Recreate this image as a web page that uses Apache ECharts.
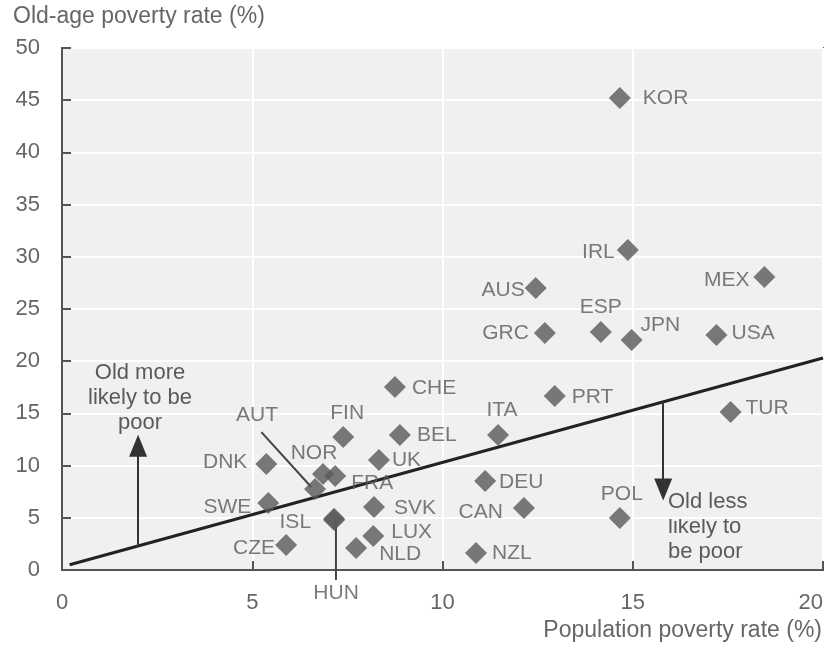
<!DOCTYPE html>
<html>
<head>
<meta charset="utf-8">
<script src="https://cdn.jsdelivr.net/npm/echarts@6/dist/echarts.min.js"></script>
<style>
html,body{margin:0;padding:0;background:#fff;}
#chart{width:826px;height:654px;}
</style>
</head>
<body>
<div id="chart"></div>
<script>
// ---- data ----
const countries = ['KOR','IRL','MEX','AUS','GRC','ESP','JPN','USA','PRT','TUR','POL','CHE','BEL','UK','ITA','DEU','CAN','SVK','LUX','NLD','NZL','FIN','DNK','NOR','FRA','AUT','SWE','ISL','HUN','CZE'];
const populationPoverty = [14.66,14.87,18.46,12.45,12.69,14.16,14.97,17.2,12.95,17.57,14.66,8.75,8.88,8.33,11.46,11.12,12.14,8.2,8.18,7.73,10.88,7.39,5.37,6.86,7.18,6.65,5.42,7.15,7.15,5.89];
const oldAgePoverty = [45.2,30.65,28.07,27.01,22.7,22.8,22.03,22.5,16.67,15.13,4.98,17.53,12.93,10.54,12.93,8.52,5.94,6.03,3.26,2.11,1.63,12.74,10.15,9.2,9.0,7.76,6.42,4.9,4.8,2.39];
const fitX = [0.2, 20];
const fitY = [0.5, 20.3];
const xTicks = [0, 5, 10, 15, 20];
const yTicks = [0, 5, 10, 15, 20, 25, 30, 35, 40, 45, 50];
// annotation arrows: [x, fromY, toY]
const arrowUp = [2.0, 2.3, 11.9];
const arrowDown = [15.8, 16.1, 7.7];
// leader lines
const autLeader = [[5.24, 13.2], [6.55, 7.95]];
const hunLeader = [[7.2, 4.7], [7.2, -0.95]];

// ---- label placement (style, not data): [position, distance, dx, dy] ----
const place = {
  KOR:['right',12,0,0], IRL:['left',2,0,2], MEX:['left',4,0,3], AUS:['left',0,0,2],
  GRC:['left',5,0,0], ESP:['top',3,0,0], JPN:['right',-2,0,-15], USA:['right',4,0,-2],
  PRT:['right',6,0,1], TUR:['right',4,0,-4], POL:['top',2,2,0], CHE:['right',6,0,1],
  BEL:['right',6,0,0], UK:['right',2,0,0], ITA:['top',3,4,0], DEU:['right',3,0,1],
  CAN:['left',10,0,4], SVK:['right',9,0,1], LUX:['right',7,0,-4], NLD:['right',12,0,6],
  NZL:['right',5,0,0], FIN:['top',2,4,0], DNK:['left',8,0,-2], NOR:['top',-1,-9,0],
  FRA:['right',5,0,7], AUT:['inside',0,-58,-74], SWE:['left',6,0,4], ISL:['left',12,0,3],
  HUN:['inside',0,2,73], CZE:['left',0,0,3]
};

const FONT = "'Liberation Sans', Arial, sans-serif";
const TXT = '#5a5a5a';

const scatterData = countries.map((c, i) => {
  const p = place[c];
  return {
    name: c,
    value: [populationPoverty[i], oldAgePoverty[i]],
    label: { position: p[0], distance: p[1] }
  };
});

const chart = echarts.init(document.getElementById('chart'), null, {renderer:'canvas'});
chart.setOption({
  backgroundColor: '#ffffff',
  animation: false,
  grid: {
    left: 62, right: 2, top: 48, bottom: 84,
    show: true, backgroundColor: '#f0f0f0', borderColor: '#555', borderWidth: 2
  },
  xAxis: {
    type: 'value', min: xTicks[0], max: xTicks[xTicks.length-1], interval: 5,
    axisLine: { show: true, lineStyle: { color: '#555', width: 2 } },
    axisTick: { show: true, inside: true, length: 9, lineStyle: { color: '#555', width: 2 } },
    splitLine: { show: true, lineStyle: { color: '#ffffff', width: 2 } },
    axisLabel: { color: '#666', fontFamily: FONT, fontSize: 22, margin: 22, alignMaxLabel: 'right' }
  },
  yAxis: {
    type: 'value', min: yTicks[0], max: yTicks[yTicks.length-1], interval: 5,
    axisLine: { show: true, lineStyle: { color: '#555', width: 2 } },
    axisTick: { show: true, inside: true, length: 9, lineStyle: { color: '#555', width: 2 } },
    splitLine: { show: true, lineStyle: { color: '#ffffff', width: 2 } },
    axisLabel: { color: '#666', fontFamily: FONT, fontSize: 22, margin: 22 }
  },
  graphic: [
    { type: 'text', left: 13, top: 5, style: { text: 'Old-age poverty rate (%)', fill: '#666', font: "23px " + FONT } },
    { type: 'text', right: 4, top: 619, style: { text: 'Population poverty rate (%)', fill: '#666', font: "23px " + FONT, textAlign: 'right' } },
    { type: 'text', x: 140, y: 360, style: { text: 'Old more\nlikely to be\npoor', fill: TXT, font: "22px " + FONT, textAlign: 'center', lineHeight: 25 } },
    { type: 'text', x: 668, y: 489, style: { text: 'Old less\nlikely to\nbe poor', fill: TXT, font: "22px " + FONT, textAlign: 'left', lineHeight: 25 } }
  ],
  series: [
    {
      type: 'line', data: fitX.map((x, i) => [x, fitY[i]]), symbol: 'none', silent: true,
      lineStyle: { color: '#222', width: 3 }, z: 3,
      markLine: {
        silent: true, symbol: ['none', 'triangle'], symbolSize: [18, 22],
        label: { show: false },
        lineStyle: { color: '#333', width: 2, type: 'solid' },
        data: [
          [{ coord: [arrowUp[0], arrowUp[1]] }, { coord: [arrowUp[0], arrowUp[2]] }],
          [{ coord: [arrowDown[0], arrowDown[1]] }, { coord: [arrowDown[0], arrowDown[2]] }]
        ]
      }
    },
    {
      type: 'line', data: autLeader, symbol: 'none', silent: true, clip: false,
      lineStyle: { color: '#444', width: 2 }, z: 2
    },
    {
      type: 'line', data: hunLeader, symbol: 'none', silent: true, clip: false,
      lineStyle: { color: '#444', width: 2 }, z: 2
    },
    {
      type: 'scatter', symbol: 'diamond', symbolSize: 22, clip: false, z: 4,
      itemStyle: { color: '#595959' },
      label: { show: true, formatter: '{b}', color: TXT, fontFamily: FONT, fontSize: 21 },
      labelLayout: function (params) {
        const p = place[countries[params.dataIndex]];
        return { dx: p[2], dy: p[3], hideOverlap: false };
      },
      data: scatterData
    }
  ]
});
</script>
</body>
</html>
